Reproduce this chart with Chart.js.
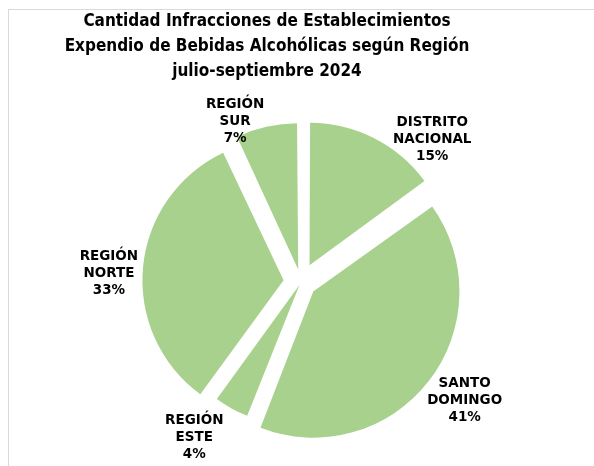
<!DOCTYPE html>
<html>
<head>
<meta charset="utf-8">
<script src="https://cdn.jsdelivr.net/npm/chart.js@4.4.1/dist/chart.umd.min.js"></script>
<style>
  html, body { margin: 0; padding: 0; background: #fff; }
  #wrap { position: relative; width: 594px; height: 466px; overflow: hidden; }
  #marco { position: absolute; left: 8px; top: 9px; width: 640px; height: 520px; border: 1px solid #d9d9d9; }
  #titulo {
    position: absolute; left: 0; top: 8px; width: 534px; text-align: center;
    font: bold 17px/25px "DejaVu Sans Condensed", "DejaVu Sans", sans-serif;
    font-stretch: condensed; color: #000;
  }
  #grafico { position: absolute; left: 0; top: 0; }
</style>
</head>
<body>
<div id="wrap">
  <div id="marco"></div>
  <canvas id="grafico" width="594" height="466"></canvas>
  <div id="titulo"></div>
</div>
<script>
const tituloLineas = [
  "Cantidad Infracciones de Establecimientos",
  "Expendio de Bebidas Alcohólicas según Región",
  "julio-septiembre 2024"
];
const regiones = ["DISTRITO NACIONAL", "SANTO DOMINGO", "REGIÓN ESTE", "REGIÓN NORTE", "REGIÓN SUR"];
const etiquetas = [
  ["DISTRITO", "NACIONAL"],
  ["SANTO", "DOMINGO"],
  ["REGIÓN", "ESTE"],
  ["REGIÓN", "NORTE"],
  ["REGIÓN", "SUR"]
];
const porcentajes = [15, 41, 4, 33, 7];

// estilo: separación de cada porción y ubicación de sus rótulos
const verde = "#a9d18e";
const separacion = [75, 62, 12, 70, 51];
const giroRotulo = [15.7, -1.8, 5.6, -2.8, -9.7];
const distRotulo = [54.5, 63.3, 49.9, 53.3, 34.6];

document.getElementById("titulo").innerHTML = tituloLineas.join("<br>");

const rotulos = {
  id: "rotulos",
  afterDatasetsDraw(chart) {
    const ctx = chart.ctx;
    const arcos = chart.getDatasetMeta(0).data;
    ctx.save();
    ctx.font = 'bold 13.5px "DejaVu Sans", sans-serif';
    ctx.fillStyle = "#000";
    ctx.textAlign = "center";
    ctx.textBaseline = "middle";
    arcos.forEach((arco, i) => {
      const ang = (arco.startAngle + arco.endAngle) / 2 + giroRotulo[i] * Math.PI / 180;
      const r = arco.outerRadius + distRotulo[i];
      const x = arco.x + Math.cos(ang) * r;
      const y = arco.y + Math.sin(ang) * r;
      const lineas = etiquetas[i].concat([porcentajes[i] + "%"]);
      lineas.forEach((t, k) => ctx.fillText(t, x, y + (k - 1) * 17));
    });
    ctx.restore();
  }
};

new Chart(document.getElementById("grafico"), {
  type: "pie",
  data: {
    labels: regiones,
    datasets: [{
      data: porcentajes,
      backgroundColor: verde,
      borderWidth: 0,
      offset: separacion,
      radius: 139,
      clip: false
    }]
  },
  options: {
    responsive: false,
    animation: false,
    layout: { padding: { left: 8, right: 0, top: 98, bottom: 0 } },
    plugins: {
      legend: { display: false },
      title: { display: false },
      tooltip: { enabled: false }
    }
  },
  plugins: [rotulos]
});
</script>
</body>
</html>
